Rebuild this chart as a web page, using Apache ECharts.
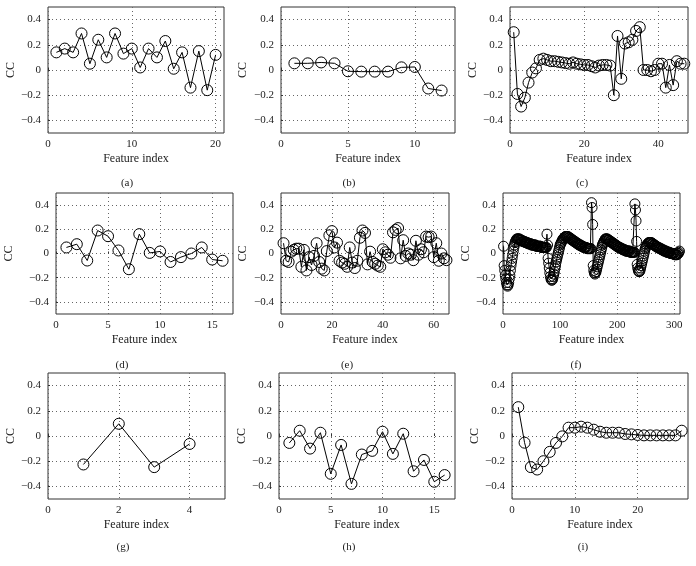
<!DOCTYPE html>
<html><head><meta charset="utf-8">
<script src="https://cdn.jsdelivr.net/npm/echarts@6/dist/echarts.min.js"></script>
<style>html,body{margin:0;padding:0;background:#fff}#c{width:696px;height:566px}</style>
</head><body><div id="c"></div>
<script>
// ---- data ----
const yTicks = [-0.4, -0.2, 0, 0.2, 0.4];
const xTicksA = [0, 10, 20];
const xTicksB = [0, 5, 10];
const xTicksC = [0, 20, 40];
const xTicksD = [0, 5, 10, 15];
const xTicksE = [0, 20, 40, 60];
const xTicksF = [0, 100, 200, 300];
const xTicksG = [0, 2, 4];
const xTicksH = [0, 5, 10, 15];
const xTicksI = [0, 10, 20];

const ccA = [0.14,0.17,0.14,0.29,0.05,0.24,0.10,0.29,0.13,0.17,0.02,0.17,0.10,0.23,0.01,0.14,-0.14,0.15,-0.16,0.12];
const ccB = [0.053,0.053,0.06,0.053,-0.01,-0.013,-0.013,-0.013,0.021,0.024,-0.147,-0.163];
const ccC = [0.30,-0.19,-0.29,-0.22,-0.10,-0.02,0.013,0.08,0.09,
  0.08,0.07,0.07,0.065,0.06,0.055,0.05,0.06,0.05,0.045,0.04,0.04,0.03,0.02,0.035,0.04,0.04,0.035,
  -0.20,0.27,-0.07,0.21,0.22,0.24,0.31,0.34,
  0.0,0.0,-0.01,0.0,0.05,0.05,-0.14,0.04,-0.12,0.07,0.05,0.05];
const ccD = [0.05,0.077,-0.058,0.19,0.143,0.025,-0.13,0.16,0.005,0.017,-0.07,-0.03,0.0,0.05,-0.05,-0.06];
const ccE = [0.085,-0.06,-0.07,0.015,0.03,0.04,0.04,-0.11,0.03,-0.14,
  -0.03,-0.095,-0.02,0.085,-0.07,-0.125,-0.14,0.02,0.15,0.185,
  0.05,0.09,-0.06,-0.075,-0.085,-0.11,0.05,-0.075,-0.12,-0.06,
  0.13,0.19,0.17,-0.09,0.015,-0.07,-0.085,-0.10,-0.11,0.035,
  0.01,-0.01,-0.035,0.175,0.195,0.21,-0.04,0.11,-0.02,0.0,
  -0.01,-0.055,0.105,-0.01,0.035,0.01,0.14,0.135,0.14,-0.03,
  0.085,-0.06,0.0,-0.04,-0.055];
const ccF = [
  0.06,-0.10,-0.14,-0.18,-0.21,-0.24,-0.26,-0.27,-0.26,
  -0.24,-0.21,-0.18,-0.14,-0.10,-0.07,-0.04,-0.01,0.02,0.05,0.07,0.09,0.10,0.11,0.12,0.12,
  0.12,0.12,0.12,0.12,0.11,0.11,0.11,0.11,0.10,0.10,
  0.10,0.10,0.10,0.09,0.09,0.09,0.09,0.09,0.08,0.08,
  0.08,0.08,0.08,0.08,0.07,0.07,0.07,0.07,0.07,0.07,
  0.07,0.07,0.06,0.06,0.06,0.06,0.06,0.06,0.06,0.06,
  0.06,0.05,0.05,0.05,0.05,0.05,0.05,0.05,0.05,0.05,
  0.05,
  0.16,0.07,-0.04,-0.08,-0.12,-0.16,-0.19,-0.21,-0.22,-0.22,
  -0.21,-0.19,-0.17,-0.15,-0.12,-0.10,-0.07,-0.05,-0.03,-0.01,0.01,0.03,0.05,0.07,0.08,0.09,0.10,0.11,0.12,0.12,0.13,0.13,0.14,0.14,
  0.14,0.14,0.14,0.14,0.13,0.13,0.13,0.12,0.12,0.12,
  0.11,0.11,0.11,0.10,0.10,0.10,0.09,0.09,0.09,0.08,
  0.08,0.08,0.07,0.07,0.07,0.07,0.06,0.06,0.06,0.06,
  0.05,0.05,0.05,0.05,0.05,0.05,0.04,0.04,0.04,0.04,
  0.04,0.04,0.04,0.04,
  0.42,0.38,0.24,-0.10,-0.14,-0.16,-0.17,-0.16,-0.15,
  -0.13,-0.11,-0.09,-0.07,-0.05,-0.03,-0.01,0.01,0.03,0.05,0.07,0.08,0.09,0.10,0.11,0.12,0.12,
  0.12,0.12,0.12,0.11,0.11,0.11,0.10,0.10,0.10,0.09,
  0.09,0.09,0.08,0.08,0.08,0.07,0.07,0.07,0.06,0.06,
  0.06,0.05,0.05,0.05,0.05,0.04,0.04,0.04,0.04,0.03,
  0.03,0.03,0.03,0.03,0.02,0.02,0.02,0.02,0.02,0.02,
  0.02,0.02,0.01,0.01,0.01,0.01,0.01,0.01,0.01,0.01,
  0.41,0.36,0.27,0.10,-0.09,-0.12,-0.14,-0.15,-0.15,-0.14,
  -0.12,-0.10,-0.08,-0.06,-0.04,-0.02,0.00,0.02,0.04,0.05,0.06,0.07,0.08,0.08,0.09,0.09,0.09,0.09,
  0.09,0.09,0.08,0.08,0.08,0.07,0.07,0.07,0.06,0.06,
  0.06,0.05,0.05,0.05,0.05,0.04,0.04,0.04,0.04,0.03,
  0.03,0.03,0.03,0.02,0.02,0.02,0.02,0.02,0.01,0.01,
  0.01,0.01,0.01,0.01,0.00,0.00,0.00,0.00,0.00,0.00,
  0.00,-0.01,-0.01,-0.01,-0.01,-0.01,-0.01,0.00,0.00,0.01,
  0.02];
const ccG = [-0.226,0.097,-0.247,-0.063];
const ccH = [-0.055,0.042,-0.10,0.026,-0.30,-0.071,-0.38,-0.147,-0.118,0.034,-0.142,0.018,-0.28,-0.19,-0.363,-0.31];
const ccI = [0.229,-0.053,-0.247,-0.266,-0.20,-0.126,-0.055,-0.003,0.066,0.066,0.074,0.066,0.05,0.034,0.026,0.026,0.026,0.016,0.013,0.008,0.005,0.005,0.005,0.005,0.005,0.005,0.042];

const panelLabels = ['(a)','(b)','(c)','(d)','(e)','(f)','(g)','(h)','(i)'];
const xTitle = 'Feature index';
const yTitle = 'CC';

// ---- layout ----
const panels = [
  {d: ccA, xMax: 21,  xt: xTicksA, g: [48, 7, 176, 126],  yGap: 30, lab: [122, 180], sym: 11},
  {d: ccB, xMax: 13,  xt: xTicksB, g: [281, 7, 174, 126], yGap: 32, lab: [344, 180], sym: 11},
  {d: ccC, xMax: 48,  xt: xTicksC, g: [510, 7, 178, 126], yGap: 31, lab: [577, 180], sym: 11},
  {d: ccD, xMax: 17,  xt: xTicksD, g: [56, 193, 177, 121], yGap: 41, lab: [117, 362], sym: 11},
  {d: ccE, xMax: 66,  xt: xTicksE, g: [281, 193, 168, 121], yGap: 32, lab: [342, 362], sym: 11},
  {d: ccF, xMax: 310, xt: xTicksF, g: [503, 193, 177, 121], yGap: 28, lab: [571, 362], sym: 10},
  {d: ccG, xMax: 5,   xt: xTicksG, g: [48, 373, 177, 126], yGap: 29, lab: [118, 544], sym: 11},
  {d: ccH, xMax: 17,  xt: xTicksH, g: [279, 373, 176, 126], yGap: 28, lab: [344, 544], sym: 11},
  {d: ccI, xMax: 28,  xt: xTicksI, g: [512, 373, 176, 126], yGap: 31, lab: [578, 544], sym: 11}
];

const FONT = 'Liberation Serif';
const fmt = v => (v < 0 ? '\u2212' + Math.abs(v) : String(v));
const gridLine = {show: true, lineStyle: {color: '#666', width: 1, type: [1, 3]}};

const option = {
  animation: false,
  backgroundColor: '#fff',
  grid: [], xAxis: [], yAxis: [], series: [], title: []
};

panels.forEach((p, i) => {
  option.grid.push({left: p.g[0], top: p.g[1], width: p.g[2], height: p.g[3],
    show: true, borderColor: '#333', borderWidth: 1, backgroundColor: 'transparent', containLabel: false});
  option.xAxis.push({type: 'value', gridIndex: i, min: 0, max: p.xMax,
    name: xTitle, nameLocation: 'middle', nameGap: 20,
    nameTextStyle: {fontFamily: FONT, fontSize: 12, color: '#222'},
    axisLine: {show: false},
    axisTick: {show: true, inside: true, length: 2, customValues: p.xt, lineStyle: {color: '#333'}},
    axisLabel: {customValues: p.xt, formatter: fmt, fontFamily: FONT, fontSize: 11, color: '#222', margin: 6},
    splitLine: gridLine});
  option.yAxis.push({type: 'value', gridIndex: i, min: -0.5, max: 0.5,
    name: yTitle, nameLocation: 'middle', nameGap: p.yGap, nameRotate: 90,
    nameTextStyle: {fontFamily: FONT, fontSize: 12, color: '#222'},
    axisLine: {show: false},
    axisTick: {show: true, inside: true, length: 2, customValues: yTicks, lineStyle: {color: '#333'}},
    axisLabel: {customValues: yTicks, formatter: fmt, fontFamily: FONT, fontSize: 11, color: '#222', margin: 7},
    splitLine: gridLine});
  option.series.push({type: 'line', xAxisIndex: i, yAxisIndex: i,
    data: p.d.map((v, k) => [k + 1, v]),
    symbol: 'circle', symbolSize: p.sym, showAllSymbol: true,
    itemStyle: {color: 'transparent', borderColor: '#000', borderWidth: 1},
    lineStyle: {color: '#000', width: 1}, clip: false});
  option.title.push({text: panelLabels[i], left: p.lab[0], top: p.lab[1] - 7, textAlign: 'center',
    textStyle: {fontFamily: FONT, fontSize: 11, fontWeight: 'normal', color: '#222'}});
});

const chart = echarts.init(document.getElementById('c'), null, {renderer: 'canvas'});
chart.setOption(option);
</script>
</body></html>
